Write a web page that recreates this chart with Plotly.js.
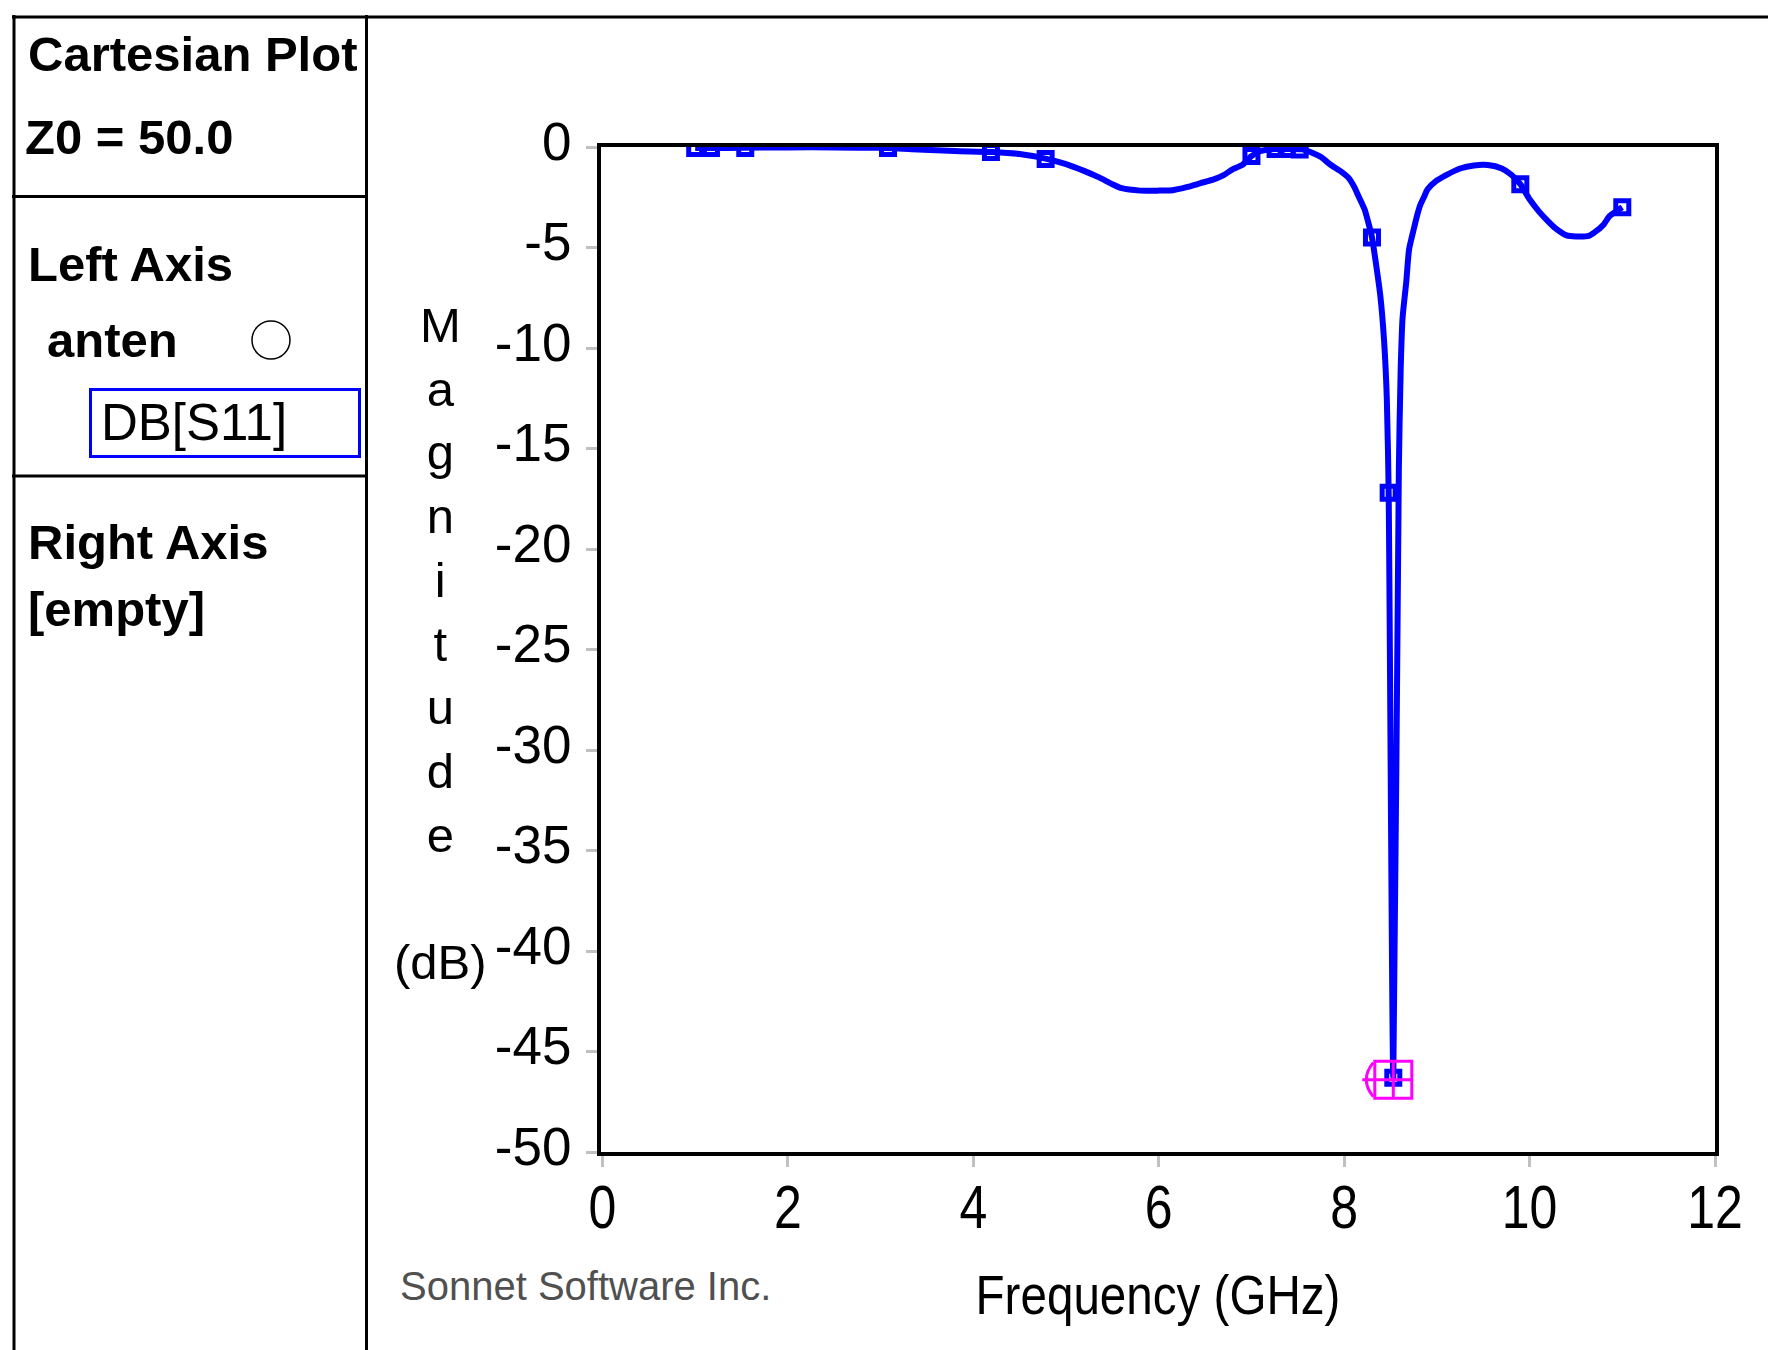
<!DOCTYPE html>
<html>
<head>
<meta charset="utf-8">
<script src="https://cdn.plot.ly/plotly-3.0.1.min.js"></script>
<style>
  html, body { margin: 0; padding: 0; background: #ffffff; }
  #chart { width: 1768px; height: 1350px; }
</style>
</head>
<body>
<div id="chart"></div>
<script>
// ---------------- DATA ----------------
// S11 magnitude curve, frequency in GHz, magnitude in dB
const freqGHz = [1.0, 1.2, 1.5, 2.0, 2.5, 3.0, 3.4, 3.8, 4.2, 4.5, 4.8, 5.0, 5.2, 5.35, 5.5, 5.6, 5.8, 6.0, 6.15, 6.3, 6.45, 6.6, 6.7, 6.8, 6.9, 7.0, 7.1, 7.25, 7.4, 7.55, 7.66, 7.75, 7.85, 7.96, 8.05, 8.11, 8.15, 8.22, 8.26, 8.30, 8.34, 8.39, 8.43, 8.46, 8.48, 8.53, 8.59, 8.61, 8.63, 8.67, 8.70, 8.75, 8.79, 8.82, 8.86, 8.90, 8.99, 9.1, 9.25, 9.4, 9.55, 9.7, 9.8, 9.9, 10.0, 10.1, 10.2, 10.28, 10.4, 10.5, 10.64, 10.7, 10.8, 10.86, 11.0];
const s11dB   = [-0.05, -0.05, -0.04, -0.02, -0.02, -0.04, -0.12, -0.2, -0.25, -0.35, -0.6, -0.85, -1.2, -1.5, -1.85, -2.05, -2.17, -2.17, -2.15, -2.0, -1.8, -1.6, -1.4, -1.1, -0.9, -0.45, -0.2, -0.1, -0.1, -0.12, -0.3, -0.5, -0.87, -1.2, -1.55, -2.0, -2.4, -3.1, -3.75, -4.5, -5.7, -7.4, -9.6, -12.5, -17.2, -46.3, -16.0, -11.0, -8.5, -6.7, -5.1, -4.1, -3.35, -2.9, -2.5, -2.1, -1.7, -1.4, -1.07, -0.92, -0.9, -1.07, -1.37, -1.85, -2.6, -3.2, -3.7, -4.05, -4.4, -4.45, -4.42, -4.25, -3.85, -3.45, -3.0];

// simulated (marked) frequency points
const simFreqGHz = [1.0, 1.17, 1.54, 3.08, 4.19, 4.78, 7.0, 7.26, 7.38, 7.52, 8.30, 8.48, 8.53, 9.9, 11.0];
const simDB      = [-0.05, -0.05, -0.05, -0.05, -0.25, -0.6, -0.45, -0.1, -0.1, -0.12, -4.5, -17.2, -46.3, -1.85, -3.0];

// minimum marker
const minFreqGHz = [8.53];
const minDB      = [-46.4];

// axes ticks
const xTickVals = [0, 2, 4, 6, 8, 10, 12];
const xTickText = ['0', '2', '4', '6', '8', '10', '12'];
const yTickVals = [0, -5, -10, -15, -20, -25, -30, -35, -40, -45, -50];
const yTickText = ['0', '-5', '-10', '-15', '-20', '-25', '-30', '-35', '-40', '-45', '-50'];

// texts
const panelTitle = 'Cartesian Plot';
const z0Text = 'Z0 = 50.0';
const leftAxisText = 'Left Axis';
const projectName = 'anten';
const measurement = 'DB[S11]';
const rightAxisText = 'Right Axis';
const rightAxisEmpty = '[empty]';
const yTitleLetters = ['M', 'a', 'g', 'n', 'i', 't', 'u', 'd', 'e', '', '(dB)'];
const xTitle = 'Frequency (GHz)';
const footer = 'Sonnet Software Inc.';

// ---------------- LAYOUT HELPERS ----------------
const W = 1768, H = 1350;
const PL = 601, PR = 1715, PT = 147, PB = 1152;
const PW = PR - PL, PH = PB - PT;
const px = v => (v - PL) / PW;
const py = v => (PB - v) / PH;

const SANS = 'Liberation Sans, Arial, sans-serif';
const BOLD = {family: SANS, size: 49, color: '#000000', weight: 700};
const REG  = {family: SANS, size: 51, color: '#000000'};

function label(text, left, baseline, font) {
  return {
    text: text, xref: 'paper', yref: 'paper', showarrow: false,
    x: px(left), y: py(baseline - 0.3465 * font.size),
    xanchor: 'left', yanchor: 'middle', align: 'left', font: font
  };
}
function hline(x0, x1, y, w) {
  return {type: 'line', xref: 'paper', yref: 'paper', x0: px(x0), x1: px(x1), y0: py(y), y1: py(y),
          line: {color: '#000000', width: w}};
}
function vline(x, y0, y1, w) {
  return {type: 'line', xref: 'paper', yref: 'paper', x0: px(x), x1: px(x), y0: py(y0), y1: py(y1),
          line: {color: '#000000', width: w}};
}

// ---------------- TRACES ----------------
const traces = [
  {
    x: freqGHz, y: s11dB, type: 'scatter', mode: 'lines',
    line: {color: '#0000ff', width: 6, shape: 'spline', smoothing: 0.6},
    hoverinfo: 'skip'
  },
  {
    x: simFreqGHz, y: simDB, type: 'scatter', mode: 'markers',
    marker: {symbol: 'square-open', size: 13, color: '#0000ff', line: {color: '#0000ff', width: 5}},
    hoverinfo: 'skip'
  },
  {
    x: minFreqGHz, y: minDB, type: 'scatter', mode: 'markers',
    marker: {symbol: 'square-cross-open', size: 37, color: '#ff00ff', line: {color: '#ff00ff', width: 3}},
    hoverinfo: 'skip'
  }
];

// ---------------- LAYOUT ----------------
const annotations = [
  label(panelTitle, 26, 71, BOLD),
  label(z0Text, 23, 154, BOLD),
  label(leftAxisText, 26, 281, BOLD),
  label(projectName, 45, 357, BOLD),
  label(measurement, 99, 440, REG),
  label(rightAxisText, 26, 559, BOLD),
  label(rightAxisEmpty, 26, 626, BOLD),
  label(footer, 398, 1300, {family: SANS, size: 40, color: '#505050'}),
  {
    text: yTitleLetters.join('<br>'), xref: 'paper', yref: 'paper', showarrow: false,
    x: px(440), y: py(296), xanchor: 'center', yanchor: 'top', align: 'center',
    font: {family: SANS, size: 49, color: '#000000'}
  }
];

const shapes = [
  hline(12, W, 17, 3),
  vline(14, 15, H, 3),
  vline(366.5, 15, H, 3),
  hline(12, 368, 196.5, 3),
  hline(12, 368, 476, 3),
  {type: 'circle', xref: 'paper', yref: 'paper', x0: px(252), x1: px(290), y0: py(321), y1: py(359),
   line: {color: '#000000', width: 1.5}},
  {type: 'rect', xref: 'paper', yref: 'paper', x0: px(90.5), x1: px(359.5), y0: py(389.5), y1: py(456.5),
   line: {color: '#0000ff', width: 3}},
  // partial ring on the left of the minimum marker
  {type: 'path', xref: 'x', yref: 'y', xsizemode: 'pixel', ysizemode: 'pixel',
   xanchor: minFreqGHz[0], yanchor: minDB[0],
   path: 'M-20,17 Q-34,0 -20,-17 M-31,0 L-19,0',
   line: {color: '#ff00ff', width: 3}}
];

const layout = {
  width: W, height: H,
  margin: {l: PL, r: W - PR, t: PT, b: H - PB, pad: 0},
  paper_bgcolor: '#ffffff', plot_bgcolor: '#ffffff',
  showlegend: false,
  font: {family: SANS, color: '#000000'},
  xaxis: {
    range: [-0.016, 12], tickmode: 'array', tickvals: xTickVals, ticktext: xTickText,
    ticks: 'outside', ticklen: 11, tickwidth: 3, tickcolor: '#c0c0c0',
    showline: true, linewidth: 4, linecolor: '#000000', mirror: true,
    showgrid: false, zeroline: false, automargin: false,
    tickfont: {family: SANS, size: 61, color: '#000000'},
    ticklabelstandoff: -12,
    title: {text: xTitle, font: {family: SANS, size: 56, color: '#000000'}, standoff: 36}
  },
  yaxis: {
    range: [-50, 0], tickmode: 'array', tickvals: yTickVals, ticktext: yTickText,
    ticks: 'outside', ticklen: 11, tickwidth: 3, tickcolor: '#c0c0c0',
    showline: true, linewidth: 4, linecolor: '#000000', mirror: true,
    showgrid: false, zeroline: false, automargin: false,
    tickfont: {family: SANS, size: 53, color: '#000000'},
    ticklabelstandoff: 4, ticklabelshift: -6
  },
  annotations: annotations,
  shapes: shapes
};

// horizontally condense a text element around its own centre (the reference uses a narrow face)
function condense(el, k) {
  const bb = el.getBBox();
  const cx = bb.x + bb.width / 2;
  const prev = el.getAttribute('transform') || '';
  el.setAttribute('transform', prev + ' translate(' + cx + ',0) scale(' + k + ',1) translate(' + (-cx) + ',0)');
}

Plotly.newPlot('chart', traces, layout, {staticPlot: true, displayModeBar: false}).then(function (gd) {
  gd.querySelectorAll('.xtick text').forEach(function (t) { condense(t, 0.82); });
  gd.querySelectorAll('.g-xtitle text').forEach(function (t) { condense(t, 0.85); });
});
</script>
</body>
</html>
